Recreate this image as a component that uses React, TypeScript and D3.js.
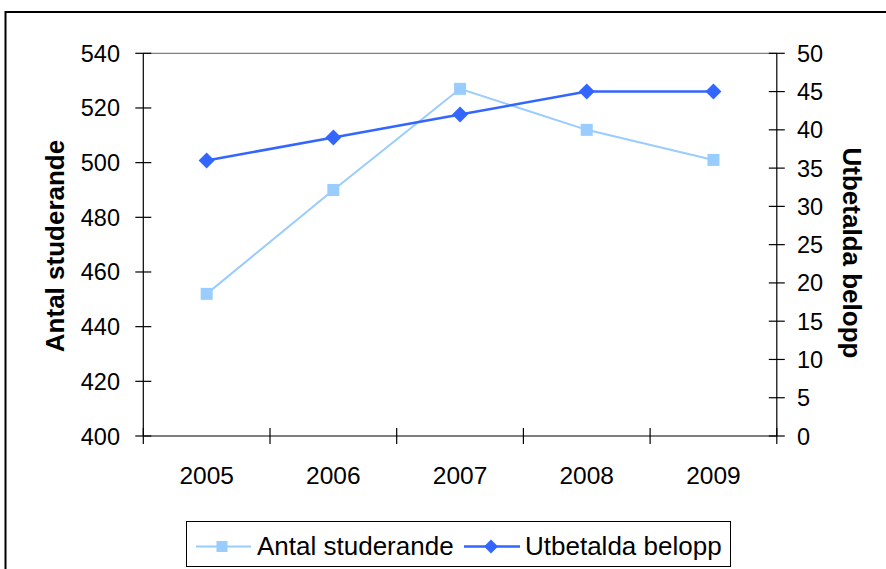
import React from "react";
import * as d3 from "d3";

const categories = ["2005", "2006", "2007", "2008", "2009"];
const antalStuderande = [452, 490, 527, 512, 501];
const utbetaldaBelopp = [36, 39, 42, 45, 45];
const leftTicks = [400, 420, 440, 460, 480, 500, 520, 540];
const rightTicks = [0, 5, 10, 15, 20, 25, 30, 35, 40, 45, 50];
const seriesNames = ["Antal studerande", "Utbetalda belopp"];
const axisTitles = ["Antal studerande", "Utbetalda belopp"];

const W = 886;
const H = 569;
const FONT = "Arial, 'Liberation Sans', sans-serif";
const LIGHT = "#99CCFF";
const DARK = "#3366FF";

export default function App() {
  const left = 143.3;
  const right = 776.8;
  const top = 53.3;
  const bottom = 436;

  const x = d3.scaleBand<string>().domain(categories).range([left, right]).padding(0);
  const yL = d3.scaleLinear().domain([400, 540]).range([bottom, top]);
  const yR = d3.scaleLinear().domain([0, 50]).range([bottom, top]);
  const cx = (c: string) => (x(c) as number) + x.bandwidth() / 2;

  const lineL = d3
    .line<number>()
    .x((_, i) => cx(categories[i]))
    .y((d) => yL(d));
  const lineR = d3
    .line<number>()
    .x((_, i) => cx(categories[i]))
    .y((d) => yR(d));

  const bounds = [...categories.map((c) => x(c) as number), right];

  const sq = 12;
  const dm = 8;
  const diamond = (px: number, py: number, r: number) =>
    `M${px},${py - r}L${px + r},${py}L${px},${py + r}L${px - r},${py}Z`;

  return (
    <svg
      width={W}
      height={H}
      style={{ position: "absolute", left: 0, top: 0, background: "#fff" }}
      fontFamily={FONT}
    >
      <rect x={0} y={0} width={W} height={H} fill="#fff" />
      {/* outer frame */}
      <path d={`M5.5,${H + 5}V12H${W + 5}`} fill="none" stroke="#000" strokeWidth={2} />

      {/* plot area top border */}
      <line x1={left} x2={right} y1={top} y2={top} stroke="#808080" strokeWidth={1.2} />

      {/* axes */}
      <line x1={left} x2={left} y1={top} y2={bottom} stroke="#000" strokeWidth={1.2} />
      <line x1={right} x2={right} y1={top} y2={bottom} stroke="#000" strokeWidth={1.2} />
      <line x1={left} x2={right} y1={bottom} y2={bottom} stroke="#000" strokeWidth={1.2} />

      {leftTicks.map((t) => (
        <g key={"l" + t}>
          <line x1={left - 8} x2={left + 8} y1={yL(t)} y2={yL(t)} stroke="#000" strokeWidth={1.2} />
          <text x={120} y={yL(t) + 8.5} textAnchor="end" fontSize={23.5} fill="#000">
            {t}
          </text>
        </g>
      ))}
      {rightTicks.map((t) => (
        <g key={"r" + t}>
          <line x1={right - 8} x2={right + 8} y1={yR(t)} y2={yR(t)} stroke="#000" strokeWidth={1.2} />
          <text x={797} y={yR(t) + 8.5} textAnchor="start" fontSize={23.5} fill="#000">
            {t}
          </text>
        </g>
      ))}
      {bounds.map((b, i) => (
        <line key={"xb" + i} x1={b} x2={b} y1={bottom - 8} y2={bottom + 8} stroke="#000" strokeWidth={1.2} />
      ))}
      {categories.map((c) => (
        <text key={"xl" + c} x={cx(c)} y={484} textAnchor="middle" fontSize={24.5} fill="#000">
          {c}
        </text>
      ))}

      {/* axis titles */}
      <text
        transform={`translate(64,246) rotate(-90)`}
        textAnchor="middle"
        fontSize={26}
        fontWeight="bold"
        fill="#000"
      >
        {axisTitles[0]}
      </text>
      <text
        transform={`translate(843,253) rotate(90)`}
        textAnchor="middle"
        fontSize={26}
        fontWeight="bold"
        fill="#000"
      >
        {axisTitles[1]}
      </text>

      {/* series */}
      <path d={lineL(antalStuderande) as string} fill="none" stroke={LIGHT} strokeWidth={2} />
      {antalStuderande.map((v, i) => (
        <rect
          key={"s" + i}
          x={cx(categories[i]) - sq / 2}
          y={yL(v) - sq / 2}
          width={sq}
          height={sq}
          fill={LIGHT}
        />
      ))}
      <path d={lineR(utbetaldaBelopp) as string} fill="none" stroke={DARK} strokeWidth={2.5} />
      {utbetaldaBelopp.map((v, i) => (
        <path key={"d" + i} d={diamond(cx(categories[i]), yR(v), dm)} fill={DARK} />
      ))}

      {/* legend */}
      <rect x={186.5} y={521.5} width={544} height={45} fill="#fff" stroke="#000" strokeWidth={1} />
      <line x1={196} x2={251} y1={546.5} y2={546.5} stroke={LIGHT} strokeWidth={2} />
      <rect x={222 - 5.5} y={546.5 - 5.5} width={11} height={11} fill={LIGHT} />
      <text x={257} y={555} fontSize={26} fill="#000">
        {seriesNames[0]}
      </text>
      <line x1={464} x2={520} y1={546.5} y2={546.5} stroke={DARK} strokeWidth={2.5} />
      <path d={diamond(491, 546.5, 7)} fill={DARK} />
      <text x={525} y={555} fontSize={26} fill="#000">
        {seriesNames[1]}
      </text>
    </svg>
  );
}
